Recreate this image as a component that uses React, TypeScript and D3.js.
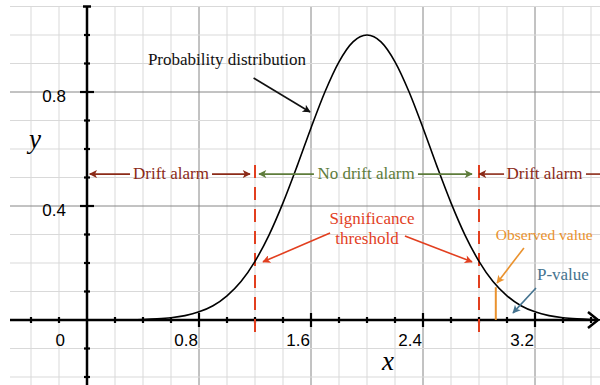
import * as d3 from "d3";
import { useEffect, useRef } from "react";

// curve (x, density)
const xs = [0.3, 0.4, 0.5, 0.6, 0.7, 0.8, 0.9, 1.0, 1.1, 1.2, 1.3, 1.4, 1.5, 1.6, 1.7, 1.8, 1.9, 2.0,
  2.1, 2.2, 2.3, 2.4, 2.5, 2.6, 2.7, 2.8, 2.9, 3.0, 3.1, 3.2, 3.3, 3.4, 3.5, 3.6, 3.7];
const density = [0.0008, 0.0018, 0.0039, 0.0079, 0.0154, 0.0286, 0.05, 0.085, 0.135, 0.206, 0.298,
  0.411, 0.539, 0.674, 0.801, 0.906, 0.976, 1.0, 0.976, 0.906, 0.801, 0.674, 0.539, 0.411, 0.298,
  0.206, 0.135, 0.085, 0.05, 0.0286, 0.0154, 0.0079, 0.0039, 0.0018, 0.0008];

const xTickLabels = [0, 0.8, 1.6, 2.4, 3.2];
const yTickLabels = [0.4, 0.8];
const thresholds = [1.2, 2.8];
const observed = [2.92, 0.115]; // x, height
const alarmY = 0.512;

export default function App() {
  const ref = useRef(null);

  useEffect(() => {
    const svg = d3.select(ref.current);
    svg.selectAll("*").remove();

    const x = d3.scaleLinear().domain([0, 3.2]).range([87, 535]);
    const y = d3.scaleLinear().domain([0, 0.8]).range([320, 92]);

    const serif = "'Liberation Serif', serif";
    const sans = "'Liberation Sans', Arial, Helvetica, sans-serif";

    // markers
    const defs = svg.append("defs");
    const mk = (id: string, color: string) =>
      defs
        .append("marker")
        .attr("id", id)
        .attr("viewBox", "0 0 10 10")
        .attr("refX", 9)
        .attr("refY", 5)
        .attr("markerWidth", 10)
        .attr("markerHeight", 8)
        .attr("markerUnits", "userSpaceOnUse")
        .attr("orient", "auto")
        .append("path")
        .attr("d", "M0,0 L10,5 L0,10 L2.5,5 Z")
        .attr("fill", color);

    const cBlack = "#111";
    const cDrift = "#8b2a17";
    const cNoDrift = "#5e7c3b";
    const cSig = "#e23f1f";
    const cObs = "#ea922e";
    const cP = "#45738f";
    mk("a-black", cBlack);
    mk("a-drift", cDrift);
    mk("a-nodrift", cNoDrift);
    mk("a-sig", cSig);
    mk("a-obs", cObs);
    mk("a-p", cP);

    const isMajor = (d: number, step: number) => Math.abs(d / step - Math.round(d / step)) < 1e-6;

    // grid
    const g = svg.append("g");
    const vx = d3.range(-2, 19).map((i) => i * 0.2);
    const hy = d3.range(-2, 12).map((i) => i * 0.1);
    g.selectAll(".vminor")
      .data(vx)
      .enter()
      .append("line")
      .attr("x1", (d) => x(d))
      .attr("x2", (d) => x(d))
      .attr("y1", y(1.1))
      .attr("y2", 385)
      .attr("stroke", (d) => (isMajor(d, 0.8) ? "#868686" : "#d9d9d9"))
      .attr("stroke-width", 1);
    g.selectAll(".hminor")
      .data(hy)
      .enter()
      .append("line")
      .attr("x1", 10)
      .attr("x2", 600)
      .attr("y1", (d) => y(d))
      .attr("y2", (d) => y(d))
      .attr("stroke", (d) => (isMajor(d, 0.4) ? "#868686" : "#d9d9d9"))
      .attr("stroke-width", 1);

    // axes
    const ax = svg.append("g");
    ax.append("line")
      .attr("x1", 10)
      .attr("x2", 598)
      .attr("y1", y(0))
      .attr("y2", y(0))
      .attr("stroke", "#000")
      .attr("stroke-width", 2.5);
    ax.append("path")
      .attr("d", `M${588},${y(0) - 8} L${598},${y(0)} L${588},${y(0) + 8}`)
      .attr("fill", "none")
      .attr("stroke", "#000")
      .attr("stroke-width", 2.5);
    ax.append("line")
      .attr("x1", x(0))
      .attr("x2", x(0))
      .attr("y1", y(1.1))
      .attr("y2", 385)
      .attr("stroke", "#000")
      .attr("stroke-width", 2.5);
    ax.append("line")
      .attr("x1", x(0) - 4)
      .attr("x2", x(0) + 4)
      .attr("y1", y(1.1))
      .attr("y2", y(1.1))
      .attr("stroke", "#000")
      .attr("stroke-width", 2.5);

    const xt = vx.filter((d) => Math.abs(d) > 1e-6 && d < 3.7);
    ax.selectAll(".xt")
      .data(xt)
      .enter()
      .append("line")
      .attr("x1", (d) => x(d))
      .attr("x2", (d) => x(d))
      .attr("y1", (d) => y(0) - (isMajor(d, 0.8) ? 7 : 3))
      .attr("y2", (d) => y(0) + (isMajor(d, 0.8) ? 7 : 3))
      .attr("stroke", "#000")
      .attr("stroke-width", 2.2);
    const yt = hy.filter((d) => Math.abs(d) > 1e-6 && d < 1.05);
    ax.selectAll(".yt")
      .data(yt)
      .enter()
      .append("line")
      .attr("y1", (d) => y(d))
      .attr("y2", (d) => y(d))
      .attr("x1", (d) => x(0) - (isMajor(d, 0.4) ? 7 : 3))
      .attr("x2", (d) => x(0) + (isMajor(d, 0.4) ? 7 : 3))
      .attr("stroke", "#000")
      .attr("stroke-width", 2.2);

    ax.selectAll(".xl")
      .data(xTickLabels)
      .enter()
      .append("text")
      .attr("x", (d) => (d === 0 ? x(0) - 22 : x(d) - 1))
      .attr("y", y(0) + 26)
      .attr("text-anchor", "end")
      .attr("font-family", sans)
      .attr("font-size", 17)
      .text((d) => (d === 0 ? "0" : d.toFixed(1)));
    ax.selectAll(".yl")
      .data(yTickLabels)
      .enter()
      .append("text")
      .attr("x", x(0) - 21)
      .attr("y", (d) => y(d) + 10)
      .attr("text-anchor", "end")
      .attr("font-family", sans)
      .attr("font-size", 17)
      .text((d) => d.toFixed(1));

    ax.append("text")
      .attr("x", x(2.15))
      .attr("y", 370)
      .attr("text-anchor", "middle")
      .attr("font-family", serif)
      .attr("font-style", "italic")
      .attr("font-size", 27)
      .text("x");
    ax.append("text")
      .attr("x", 35)
      .attr("y", 148)
      .attr("text-anchor", "middle")
      .attr("font-family", serif)
      .attr("font-style", "italic")
      .attr("font-size", 27)
      .text("y");

    // threshold lines
    svg.selectAll(".thr")
      .data(thresholds)
      .enter()
      .append("line")
      .attr("x1", (d) => x(d))
      .attr("x2", (d) => x(d))
      .attr("y1", y(0.544))
      .attr("y2", y(-0.053))
      .attr("stroke", cSig)
      .attr("stroke-width", 2)
      .attr("stroke-dasharray", "13 9");

    // observed value
    svg.append("line")
      .attr("x1", x(observed[0]))
      .attr("x2", x(observed[0]))
      .attr("y1", y(0))
      .attr("y2", y(observed[1]))
      .attr("stroke", cObs)
      .attr("stroke-width", 2);

    // curve
    const line = d3
      .line<number>()
      .x((d, i) => x(xs[i]))
      .y((d) => y(d))
      .curve(d3.curveMonotoneX);
    svg.append("path")
      .attr("d", line(density))
      .attr("fill", "none")
      .attr("stroke", "#000")
      .attr("stroke-width", 1.6);

    // annotations
    const arrow = (x1: number, y1: number, x2: number, y2: number, color: string, id: string) =>
      svg.append("line")
        .attr("x1", x(x1))
        .attr("y1", y(y1))
        .attr("x2", x(x2))
        .attr("y2", y(y2))
        .attr("stroke", color)
        .attr("stroke-width", 1.6)
        .attr("marker-end", `url(#${id})`);
    const label = (tx: number, ty: number, s: string, color: string, anchor = "middle", size = 17) =>
      svg.append("text")
        .attr("x", x(tx))
        .attr("y", y(ty))
        .attr("text-anchor", anchor)
        .attr("font-family", serif)
        .attr("font-size", size)
        .attr("fill", color)
        .text(s);

    label(1.0, 0.895, "Probability distribution", cBlack);
    arrow(1.19, 0.849, 1.593, 0.73, cBlack, "a-black");

    label(0.6, alarmY - 0.016, "Drift alarm", cDrift);
    arrow(0.307, alarmY, 0.02, alarmY, cDrift, "a-drift");
    arrow(0.893, alarmY, 1.164, alarmY, cDrift, "a-drift");

    label(1.993, alarmY - 0.016, "No drift alarm", cNoDrift);
    arrow(1.621, alarmY, 1.229, alarmY, cNoDrift, "a-nodrift");
    arrow(2.364, alarmY, 2.75, alarmY, cNoDrift, "a-nodrift");

    label(3.268, alarmY - 0.016, "Drift alarm", cDrift);
    arrow(2.979, alarmY, 2.8, alarmY, cDrift, "a-drift");
    arrow(3.564, alarmY, 3.75, alarmY, cDrift, "a-drift");

    label(2.036, 0.337, "Significance", cSig);
    label(2.0, 0.265, "threshold", cSig);
    arrow(1.736, 0.305, 1.257, 0.204, cSig, "a-sig");
    arrow(2.271, 0.295, 2.75, 0.204, cSig, "a-sig");

    label(2.92, 0.281, "Observed value", cObs, "start", 15.5);
    arrow(3.121, 0.253, 2.929, 0.13, cObs, "a-obs");

    label(3.214, 0.14, "P-value", cP, "start");
    arrow(3.207, 0.112, 3.043, 0.025, cP, "a-p");
  }, []);

  return (
    <svg
      ref={ref}
      width={600}
      height={385}
      style={{ position: "absolute", left: 0, top: 0, background: "#fff" }}
    />
  );
}
